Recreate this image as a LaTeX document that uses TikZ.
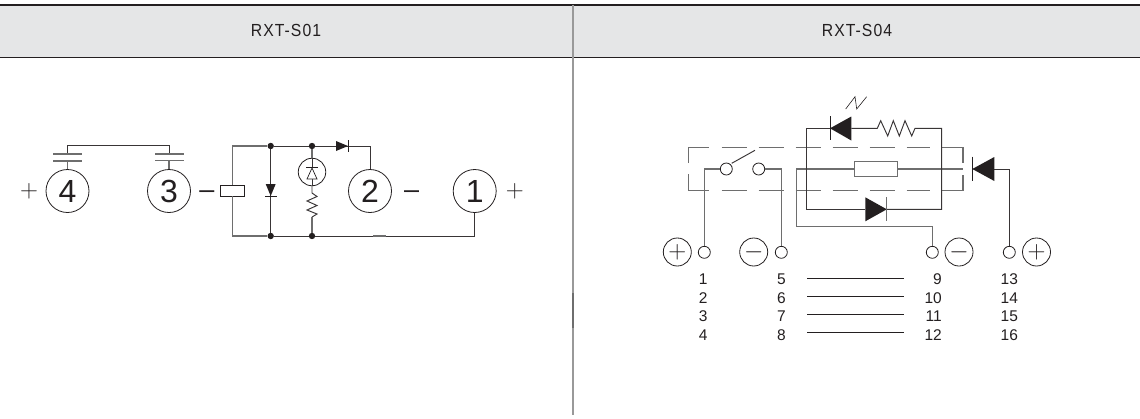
\documentclass[tikz,border=0pt]{standalone}
\usepackage{fontspec}
\setmainfont{Liberation Sans}
\newfontfamily\headfont[LetterSpace=6,FakeStretch=0.9]{Liberation Sans}
\usetikzlibrary{positioning}
\definecolor{inkc}{HTML}{231F20}
\definecolor{wirec}{HTML}{6E6E6E}
\definecolor{bandc}{HTML}{E5E6E7}
\tikzset{
  wire/.style={draw=inkc!90,line width=0.95pt},
  greywire/.style={draw=wirec,line width=1.3pt},
  dashwire/.style={draw=wirec,line width=1.1pt,dash pattern=on 25pt off 12pt},
  term/.style={circle,draw=inkc,line width=0.8pt,minimum size=43pt,inner sep=0pt,text=inkc,font=\fontsize{32}{32}\selectfont},
  pole/.style={circle,draw=inkc,line width=0.8pt,minimum size=28pt,inner sep=0pt,text=inkc,font=\fontsize{25}{25}\selectfont},
  port/.style={circle,draw=inkc,fill=white,line width=0.8pt,minimum size=12pt,inner sep=0pt},
  junction/.style={circle,fill=inkc,minimum size=6.4pt,inner sep=0pt},
  sign/.style={inner sep=0pt,text=inkc,font=\fontsize{26}{26}\selectfont},
  dash sign/.style={inner sep=0pt,text=inkc,font=\fontsize{27}{27}\selectfont},
  pinno/.style={inner sep=0pt,text=inkc,font=\fontsize{15.5}{15.5}\selectfont},
  headtext/.style={inner sep=0pt,text=inkc,font=\headfont\fontsize{17.5}{17.5}\selectfont},
  pics/smalldiode/.style={code={
    \fill[inkc] (0,-5) -- (12,0) -- (0,5) -- cycle;
    \draw[inkc,line width=0.8pt] (12.5,-6) -- (12.5,6);}},
  pics/bigdiode/.style={code={
    \fill[inkc] (0,-12) -- (21.5,0) -- (0,12) -- cycle;
    \draw[wirec,line width=1.1pt] (21.5,-12) -- (21.5,12);}}
}
\begin{document}
\begin{tikzpicture}[x=1pt,y=-1pt]
  \useasboundingbox (0,0) rectangle (1140,418);

  % Header band
  \fill[bandc] (0,5) rectangle (1140,57.5);
  \draw[inkc,line width=1.5pt] (0,5) -- (1140,5);
  \draw[inkc,line width=1.2pt] (0,57.5) -- (1140,57.5);
  \draw[black!40,line width=1.5pt] (573,5) -- (573,415);
  \draw[wirec,line width=1.5pt] (573,293) -- (573,328);
  \node[headtext] (heads01) at (286,30.5) {RXT-S01};
  \node[headtext] (heads04) at (857,30.5) {RXT-S04};

  % RXT-S01 terminals
  \node[term] (four) at (67.5,191) {4};
  \node[term] (three) at (169,191) {3};
  \node[term] (two) at (370,191) {2};
  \node[term] (one) at (474.7,191) {1};
  \node[sign] (plusl) at (29,191) {$+$};
  \node[dash sign] (minusa) at (207,195) {–};
  \node[dash sign] (minusb) at (411.7,195) {–};
  \node[sign] (plusr) at (514.7,191) {$+$};

  % contact
  \coordinate (capa) at (67.5,145.7);
  \coordinate (capb) at (169,145.7);
  \draw[greywire] (four.north) -- (67.5,161);
  \draw[greywire] (three.north) -- (169,161);
  \draw[wire] (67.5,154) -- (capa) -- (capb) -- (169,154);
  \draw[greywire] (53,154) -- (82,154) (53,161) -- (82,161);
  \draw[greywire] (155,154) -- (184,154) (155,160.5) -- (184,160.5);

  % coil
  \node[draw=inkc,line width=0.8pt,minimum width=24pt,minimum height=11pt,inner sep=0pt] (coil) at (232.5,190.5) {};
  \node[junction] (topa) at (270.7,146) {};
  \node[junction] (topb) at (312,146) {};
  \node[junction] (bota) at (270.7,236) {};
  \node[junction] (botb) at (312,236) {};
  \draw[greywire] (coil.north) |- (topa);
  \draw[greywire] (coil.south) |- (bota);
  \draw[wire] (topa) -- (bota);
  \draw[wire] (topa) -- (topb);
  \draw[wire] (bota) -- (botb);
  \draw[wire] (topb) -| (two.north);
  \draw[wire] (botb) -| (one.south);
  \draw[wirec,line width=1.6pt] (373,236) -- (386,236);
  \pic[rotate=-90] at (270.7,184) {smalldiode};
  \pic at (336,146) {smalldiode};

  % led and resistor
  \node[circle,draw=inkc,line width=0.8pt,minimum size=27.5pt,inner sep=0pt] (ledl) at (312,172) {};
  \coordinate (ledtip) at (312,168);
  \coordinate (ledbase) at (312,179);
  \draw[greywire] (topb) -- (ledl.north);
  \draw[wire] (ledl.north) -- (ledtip);
  \draw[wire] (ledbase) -- (ledl.south);
  \draw[inkc,line width=0.7pt,fill=white] (ledbase) -- ++(-5,0) -- (ledtip) -- (317,179) -- cycle;
  \draw[inkc,line width=0.8pt] (306,167.7) -- (318,167.7);
  \coordinate (resa) at (312,193);
  \coordinate (resb) at (312,217);
  \draw[wire] (ledl.south) -- (resa) -- (317,196.5) -- (307,201) -- (317,205.5) -- (307,210) -- (317,214) -- (resb);
  \draw[greywire] (resb) -- (botb);

  % RXT-S04 dashed box
  \draw[greywire] (688.3,163) -- (688.3,147.7) -- (709.3,147.7);
  \draw[greywire] (688.3,174) -- (688.3,190.3) -- (709.3,190.3);
  \draw[dashwire] (721.7,147.7) -- (930,147.7);
  \draw[dashwire] (721.7,190.3) -- (930,190.3);
  \draw[greywire] (941.7,147.7) -- (963,147.7) -- (963,163);
  \draw[greywire] (941.7,190.3) -- (963,190.3) -- (963,175);

  % ports
  \node[port] (porta) at (704.3,252.3) {};
  \node[port] (portb) at (781.3,252.3) {};
  \node[port] (portc) at (932.3,252.3) {};
  \node[port] (portd) at (1009.3,252.3) {};
  \node[pole] (plusa) at (677.3,252) {$+$};
  \node[pole] (minusc) at (753.7,252) {$-$};
  \node[pole] (minusd) at (959,252) {$-$};
  \node[pole] (plusb) at (1036.5,252) {$+$};

  % Switch
  \node[port] (cona) at (726.3,169) {};
  \node[port] (conb) at (758.7,169) {};
  \draw[greywire] (cona) -| (porta);
  \draw[greywire] (conb) -| (portb);
  \coordinate (levera) at (731.7,163.3);
  \coordinate (leverb) at (755,150.3);
  \draw[wire] (levera) -- (leverb);

  % Coil box and outer diode
  \node[draw=wirec,line width=1.1pt,minimum width=43.4pt,minimum height=15.4pt,inner sep=0pt] (coilb) at (876,169) {};
  \coordinate (bendc) at (796.7,226.7);
  \coordinate (coilend) at (963,169);
  \draw[greywire] (coilb) -| (bendc) -| (portc);
  \draw[greywire] (coilb) -- (coilend);
  \coordinate (diodeout) at (994.3,169);
  \draw[wire] (diodeout) -| (portd);
  \fill[inkc] (972.3,169) -- (994.3,157) -- (994.3,181) -- cycle;
  \draw[inkc,line width=0.9pt] (972.3,156.7) -- (972.3,181);

  % Top branch
  \coordinate (brtl) at (806.7,128.3);
  \coordinate (brbl) at (806.7,209.3);
  \coordinate (brtr) at (941.7,128.3);
  \coordinate (brbr) at (941.7,209.3);
  \coordinate (rtopa) at (877.3,128.3);
  \coordinate (rtopb) at (915,128.3);
  \draw[wire] (830,128.3) -- (brtl) -- (brbl) -- (865.3,209.3);
  \draw[wire] (851.3,128.3) -- (rtopa) -- (880.7,120.7) -- (887.7,136) -- (893.3,120.7) -- (899.3,136) -- (905,120.7) -- (911.7,136) -- (rtopb) -- (brtr) -- (brbr) -- (886.7,209.3);
  \fill[inkc] (830,128.3) -- (851.3,116.5) -- (851.3,140.5) -- cycle;
  \draw[inkc,line width=0.9pt] (830,116.3) -- (830,140);
  \draw[inkc,line width=0.6pt] (845.7,109) -- (855,96.7) -- (856.7,109) -- (866.7,96.7);
  \pic at (865.3,209.3) {bigdiode};

  % Pin numbers
  \foreach \pa/\pb/\pc/\pd/\rowy in {1/5/9/13/279.3,2/6/10/14/297.7,3/7/11/15/316.2,4/8/12/16/334.7}{
    \node[pinno] (n\pa) at (703.3,\rowy) {\pa};
    \node[pinno] (n\pb) at (781.3,\rowy) {\pb};
    \node[pinno,anchor=east] (n\pc) at (942,\rowy) {\pc};
    \node[pinno] (n\pd) at (1009.3,\rowy) {\pd};
  }
  \foreach \rowy in {278.3,296.3,314.3,332.3}
    \draw[inkc,line width=0.8pt] (807.3,\rowy) -- (904.3,\rowy);
\end{tikzpicture}
\end{document}
